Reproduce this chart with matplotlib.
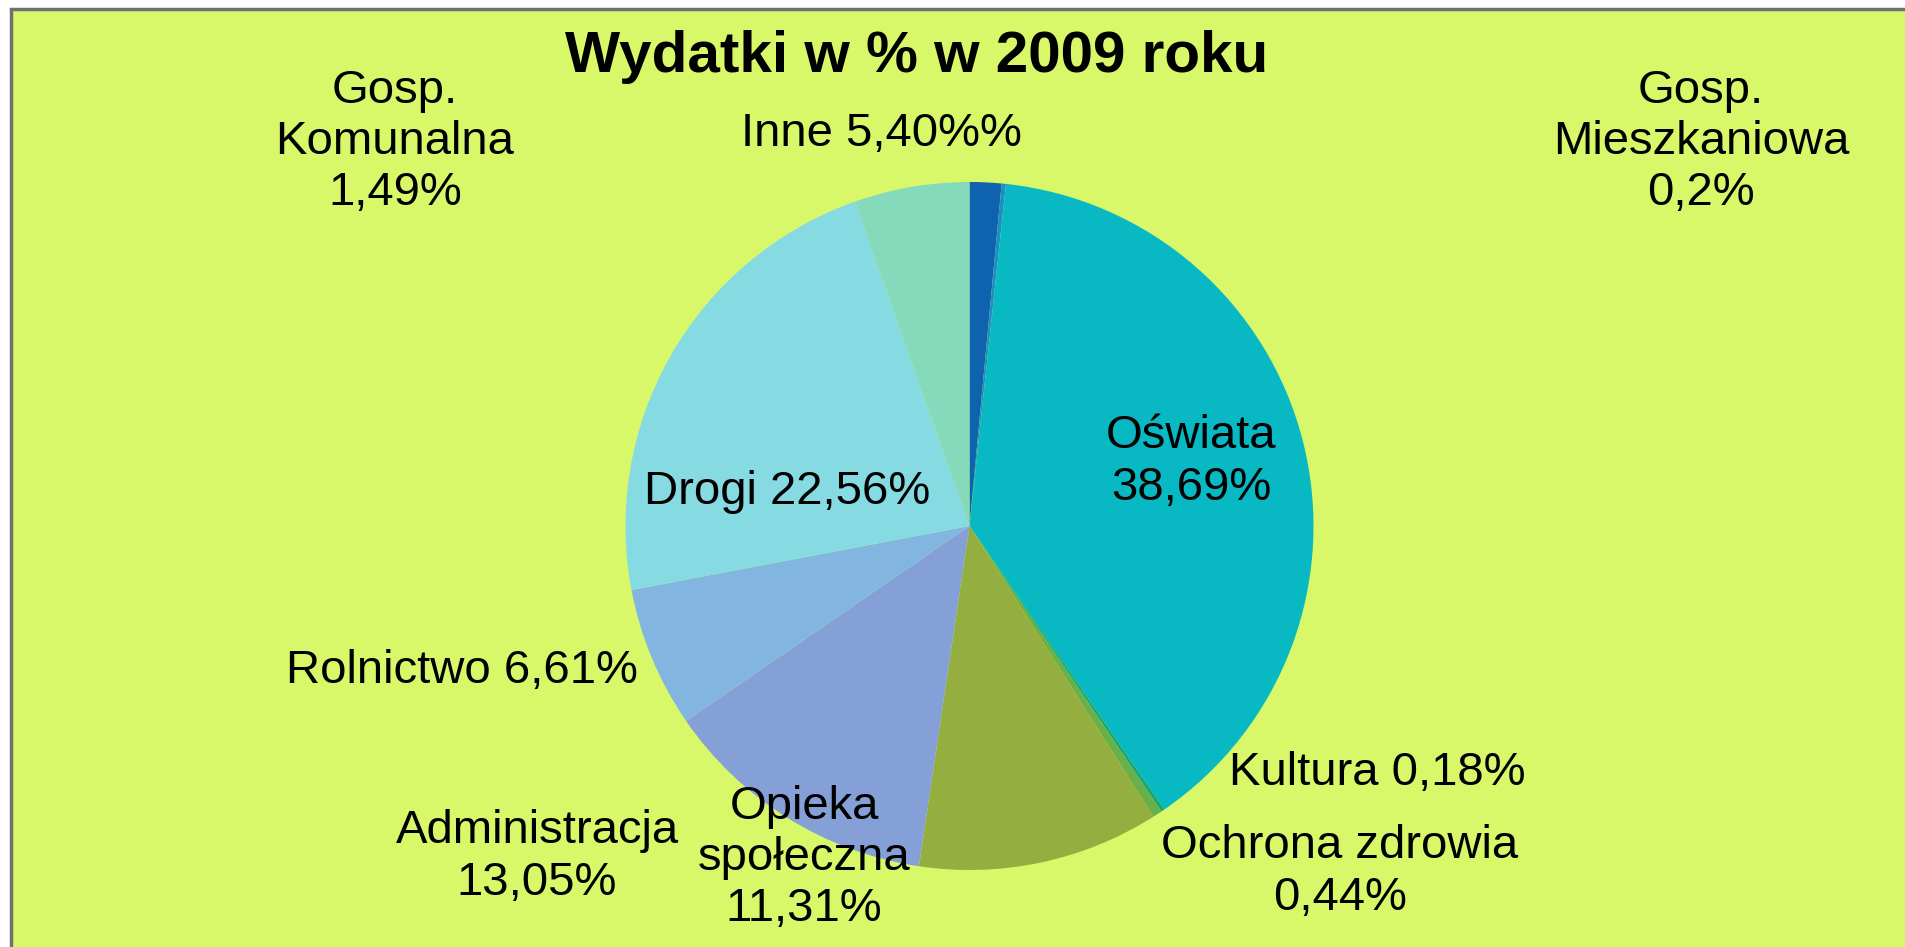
import matplotlib
matplotlib.use('Agg')
import matplotlib.pyplot as plt
from matplotlib.patches import Rectangle

# dane - kolejnosc zgodnie z ruchem wskazowek zegara od gory
kategorie = ['Gosp. Komunalna', 'Gosp. Mieszkaniowa', 'Oświata', 'Kultura',
             'Ochrona zdrowia', 'Opieka społeczna', 'Administracja',
             'Rolnictwo', 'Drogi', 'Inne']
wartosci = [1.49, 0.2, 38.69, 0.18, 0.44, 11.31, 13.05, 6.61, 22.56, 5.40]
etykiety = ['Gosp.\nKomunalna\n1,49%', 'Gosp.\nMieszkaniowa\n0,2%', 'Oświata\n38,69%',
            'Kultura 0,18%', 'Ochrona zdrowia\n0,44%', 'Opieka\nspołeczna\n11,31%',
            'Administracja\n13,05%', 'Rolnictwo 6,61%', 'Drogi 22,56%', 'Inne 5,40%%']
kolory = ['#0e62ae', '#1c8ec8', '#08b8c2', '#18a87a', '#6ab04a',
          '#94ae40', '#85a0d6', '#82b6e0', '#86dae2', '#86dabc']
# polozenie etykiet w pikselach (srodek tekstu)
pozycje = [(395, 142), (1701, 142), (1191, 462), (1377, 773), (1340, 872),
           (804, 858), (537, 857), (462, 671), (787, 492), (881, 134)]

W, H = 1905, 947
plt.rcParams['font.family'] = ['Liberation Sans', 'DejaVu Sans']

fig = plt.figure(figsize=(W / 100, H / 100), dpi=100, facecolor='white')

# tlo wykresu (prawa i dolna krawedz poza obrazem)
tlo = Rectangle((11 / W, -0.05), 1.1, 1.05 - 9 / H, transform=fig.transFigure,
                facecolor='#d8f86a', edgecolor='#707070', linewidth=2.5, zorder=-10)
fig.patches.append(tlo)

cx, cy, r = 969.5, 526, 344
ax = fig.add_axes([(cx - r) / W, (H - cy - r) / H, 2 * r / W, 2 * r / H])
ax.set_zorder(1)
ax.patch.set_visible(False)
ax.pie(wartosci, colors=kolory, startangle=90, counterclock=False, radius=1,
       wedgeprops=dict(linewidth=0))
ax.set_xlim(-1, 1)
ax.set_ylim(-1, 1)
ax.axis('off')

for tekst, (x, y) in zip(etykiety, pozycje):
    fig.text(x / W, 1 - y / H, tekst, ha='center', va='center', fontsize=34,
             linespacing=1.22, multialignment='center', zorder=5)

fig.text(917 / W, 1 - 57 / H, 'Wydatki w % w 2009 roku', ha='center', va='center',
         fontsize=42, fontweight='bold', zorder=5)

fig.savefig('out.png', dpi=100, facecolor=fig.get_facecolor())
